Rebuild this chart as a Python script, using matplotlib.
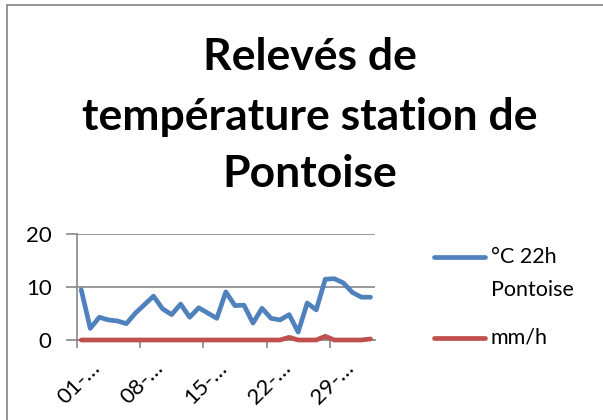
import matplotlib
matplotlib.use("Agg")
import matplotlib.pyplot as plt
from matplotlib.patches import Rectangle
from matplotlib.lines import Line2D

plt.rcParams['font.family'] = ['Lato', 'DejaVu Sans']

title_lines = ["Relevés de", "température station de", "Pontoise"]
series_names = ["°C 22h", "Pontoise", "mm/h"]
temperature = [9.5, 2.2, 4.3, 3.8, 3.6, 3.1, 5.1, 6.7, 8.3, 5.9, 4.8, 6.8, 4.3, 6.1,
               5.1, 4.1, 9.1, 6.5, 6.6, 3.2, 6.0, 4.1, 3.8, 4.8, 1.5, 7.0, 5.7, 11.5,
               11.6, 10.8, 9.0, 8.1, 8.1]
rain = [0, 0, 0, 0, 0, 0, 0, 0, 0, 0, 0, 0, 0, 0, 0, 0, 0, 0, 0, 0, 0, 0, 0, 0.5,
        0, 0, 0, 0.7, 0, 0, 0, 0, 0.2]
tick_labels = ["01-…", "08-…", "15-…", "22-…", "29-…"]
tick_index = [0, 7, 14, 21, 28]
yticks = [0, 10, 20]

BLUE = '#4F81BD'
RED = '#C0504D'
W, H = 603, 420
fig = plt.figure(figsize=(W / 100, H / 100), dpi=100)

# chart border (only top and left visible in crop)
fig.patches.append(Rectangle((7 / W, -0.1), 1.2, 1 - 5 / H + 0.1, transform=fig.transFigure,
                             fill=False, edgecolor='#8c8c8c', linewidth=1.3))

ax = fig.add_axes([76.7 / W, 1 - 340 / H, 298.3 / W, 105.7 / H])
x = list(range(len(temperature)))
ax.plot(x, temperature, color=BLUE, linewidth=3.4, solid_capstyle='round',
        solid_joinstyle='round', zorder=3)
ax.plot(x, rain, color=RED, linewidth=3.4, solid_capstyle='round',
        solid_joinstyle='round', zorder=4, clip_on=False)

ax.set_xlim(-0.5, len(temperature) - 0.5)
ax.set_ylim(0, 20)
ax.set_yticks(yticks)
ax.set_yticklabels([str(v) for v in yticks], fontsize=16)
ax.grid(axis='y', color='#868686', linewidth=1.2)
ax.tick_params(axis='y', length=8, color='#868686', width=1.2, pad=10)
ax.set_axisbelow(True)

ax.set_xticks([i - 0.5 for i in tick_index])
ax.set_xticklabels([])
ax.tick_params(axis='x', length=6, color='#868686', width=1.2)
for i, lab in zip(tick_index, tick_labels):
    ax.text(i + 1.0, -3.4, lab, rotation=45, ha='right', va='top', fontsize=16,
            rotation_mode='anchor', transform=ax.transData, clip_on=False)

for s in ['top', 'right']:
    ax.spines[s].set_visible(False)
for s in ['left', 'bottom']:
    ax.spines[s].set_color('#868686')
    ax.spines[s].set_linewidth(1.2)

# legend, drawn by hand to mimic the reference layout
leg_rows = [(257, BLUE, series_names[0]), (290, None, series_names[1]), (338, RED, series_names[2])]
for yp, col, txt in leg_rows:
    yf = 1 - yp / H
    if col is not None:
        fig.add_artist(Line2D([434 / W, 485 / W], [yf, yf], color=col, linewidth=3.4,
                              solid_capstyle='round', transform=fig.transFigure))
    fig.text(491 / W, yf, txt, ha='left', va='center', fontsize=15.5)

title_y = [70, 130, 187]
for txt, yb in zip(title_lines, title_y):
    fig.text(310 / W, 1 - yb / H, txt, ha='center', va='baseline', fontsize=32,
             fontweight='bold')

fig.savefig('out.png', dpi=100)
